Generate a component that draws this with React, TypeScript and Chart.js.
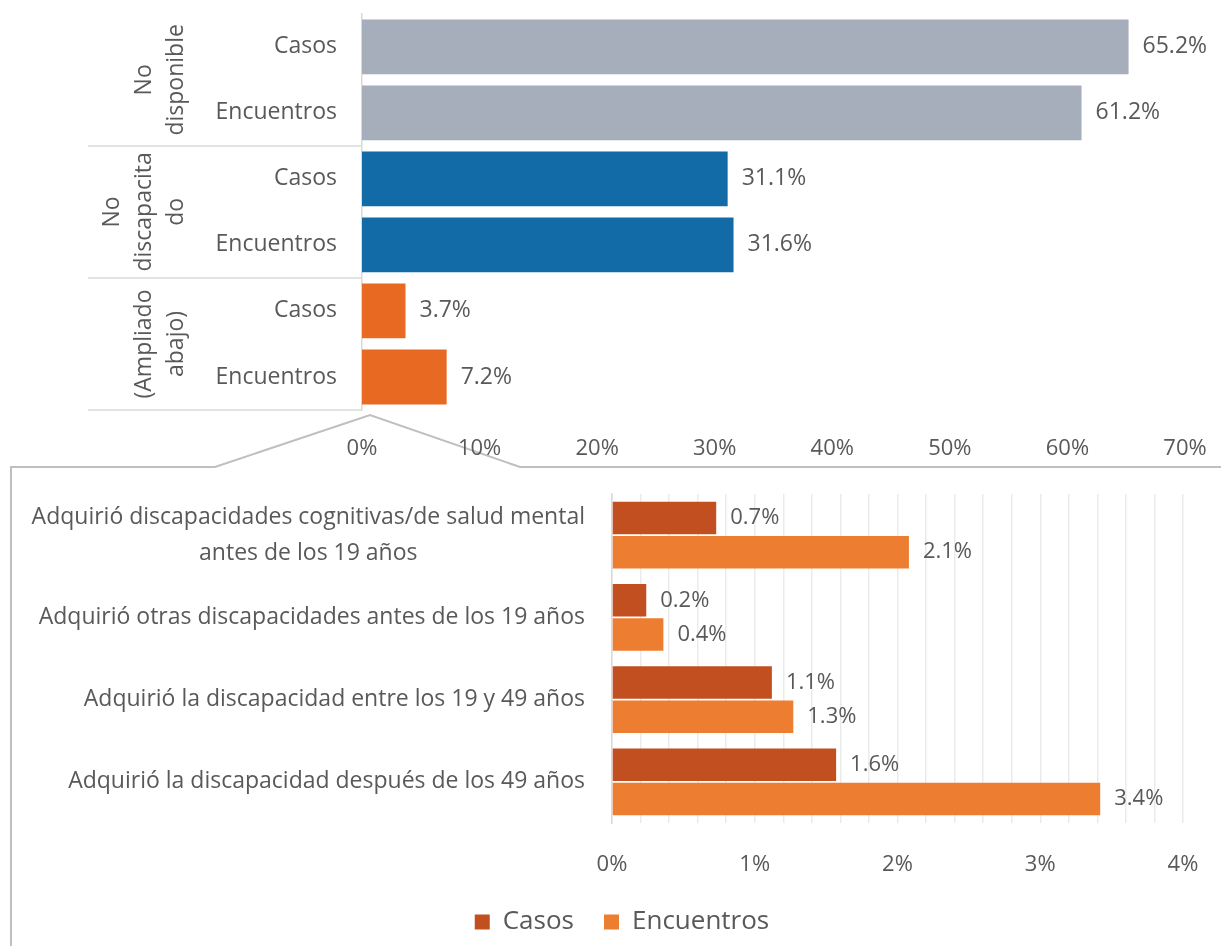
import React, { useEffect, useRef } from "react";
import { Chart, registerables } from "chart.js";

Chart.register(...registerables);

const FONT = "'Open Sans', sans-serif";
const TEXT = "#595959";

// ---------- top chart data ----------
const topCategories = ["Casos", "Encuentros", "Casos", "Encuentros", "Casos", "Encuentros"];
const topValues = [65.2, 61.2, 31.1, 31.6, 3.7, 7.2];
const topBarColors = ["#A5AEBA", "#A5AEBA", "#126BA7", "#126BA7", "#E86A22", "#E86A22"];
const topGroupLabels = [["No", "disponible"], ["No", "discapacita", "do"], ["(Ampliado", "abajo)"]];
const topGroupSizes = [2, 2, 2];
const topAxisMax = 70;
const topAxisStep = 10;

// ---------- bottom chart data ----------
const bottomCategories = [
  ["Adquirió discapacidades cognitivas/de salud mental", "antes de los 19 años"],
  ["Adquirió otras discapacidades antes de los 19 años"],
  ["Adquirió la discapacidad entre los 19 y 49 años"],
  ["Adquirió la discapacidad después de los 49 años"],
];
const seriesNames = ["Casos", "Encuentros"];
const casosValues = [0.73, 0.24, 1.12, 1.57];
const encuentrosValues = [2.08, 0.36, 1.27, 3.42];
const seriesColors = ["#C24F20", "#ED7D31"];
const bottomAxisMax = 4;
const bottomGridStep = 0.2;

const valueLabelPlugin = (offset: number, size: number) => ({
  id: "valueLabels",
  afterDatasetsDraw(chart: any) {
    const ctx = chart.ctx;
    ctx.save();
    ctx.font = `${size}px ${FONT}`;
    ctx.fillStyle = TEXT;
    ctx.textAlign = "left";
    ctx.textBaseline = "middle";
    chart.data.datasets.forEach((ds: any, di: number) => {
      chart.getDatasetMeta(di).data.forEach((el: any, i: number) => {
        ctx.fillText(Number(ds.data[i]).toFixed(1) + "%", el.x + offset, el.y);
      });
    });
    ctx.restore();
  },
});

const topGroupsPlugin = {
  id: "topGroups",
  afterDraw(chart: any) {
    const y = chart.scales.y;
    const ctx = chart.ctx;
    const area = chart.chartArea;
    const n = topCategories.length;
    const boundary = (i: number) =>
      i <= 0 ? y.top : i >= n ? y.bottom : (y.getPixelForTick(i - 1) + y.getPixelForTick(i)) / 2;
    let start = 0;
    ctx.save();
    topGroupLabels.forEach((lines, g) => {
      const end = start + topGroupSizes[g];
      const y0 = boundary(start);
      const y1 = boundary(end);
      ctx.strokeStyle = "#D9D9D9";
      ctx.lineWidth = 1.5;
      ctx.beginPath();
      ctx.moveTo(88, Math.round(y1));
      ctx.lineTo(area.left, Math.round(y1));
      ctx.stroke();
      const cy = (y0 + y1) / 2;
      ctx.font = `23px ${FONT}`;
      ctx.fillStyle = TEXT;
      ctx.textAlign = "center";
      ctx.textBaseline = "middle";
      lines.forEach((line, k) => {
        const x = 176 - (lines.length - 1 - k) * 32;
        ctx.save();
        ctx.translate(x, cy);
        ctx.rotate(-Math.PI / 2);
        ctx.fillText(line, 0, 0);
        ctx.restore();
      });
      start = end;
    });
    ctx.restore();
  },
};

const bottomLabelsPlugin = {
  id: "bottomLabels",
  afterDraw(chart: any) {
    const y = chart.scales.y;
    const ctx = chart.ctx;
    const right = chart.chartArea.left - 27;
    ctx.save();
    ctx.font = `23px ${FONT}`;
    ctx.fillStyle = TEXT;
    ctx.textBaseline = "middle";
    ctx.textAlign = "center";
    bottomCategories.forEach((lines, i) => {
      const cy = y.getPixelForTick(i);
      const lh = 36;
      const maxW = Math.max(...lines.map((l) => ctx.measureText(l).width));
      const cx = right - maxW / 2;
      lines.forEach((l, k) => ctx.fillText(l, cx, cy + (k - (lines.length - 1) / 2) * lh));
    });
    ctx.restore();
  },
};

export default function App() {
  const topRef = useRef<HTMLCanvasElement>(null);
  const bottomRef = useRef<HTMLCanvasElement>(null);

  useEffect(() => {
    const top = new Chart(topRef.current as HTMLCanvasElement, {
      type: "bar",
      data: {
        labels: topCategories,
        datasets: [
          {
            data: topValues,
            backgroundColor: topBarColors,
            borderWidth: 0,
            barPercentage: 0.83,
            categoryPercentage: 1,
          },
        ],
      },
      options: {
        indexAxis: "y",
        responsive: false,
        animation: false,
        layout: { padding: { top: 10, right: 36, left: 0, bottom: 0 } },
        plugins: { legend: { display: false }, tooltip: { enabled: false } },
        scales: {
          x: {
            min: 0,
            max: topAxisMax,
            ticks: {
              stepSize: topAxisStep,
              callback: (v: any) => `${v}%`,
              color: TEXT,
              font: { family: FONT, size: 22 },
              padding: 0,
              maxRotation: 0,
            },
            grid: { display: false, drawTicks: true, tickLength: 26 },
            border: { display: false },
            afterFit: (s: any) => {
              s.height = 56;
            },
          },
          y: {
            ticks: { color: TEXT, font: { family: FONT, size: 23 }, padding: 0 },
            grid: { display: false, drawTicks: true, tickLength: 25 },
            border: { display: true, color: "#D9D9D9", width: 1.5 },
            afterFit: (s: any) => {
              s.width = 362;
            },
          },
        },
      } as any,
      plugins: [topGroupsPlugin, valueLabelPlugin(14, 23)],
    });

    const bottom = new Chart(bottomRef.current as HTMLCanvasElement, {
      type: "bar",
      data: {
        labels: bottomCategories.map((c) => c.join(" ")),
        datasets: [
          {
            label: seriesNames[0],
            data: casosValues,
            backgroundColor: seriesColors[0],
            borderWidth: 0,
            barPercentage: 0.95,
            categoryPercentage: 0.83,
          },
          {
            label: seriesNames[1],
            data: encuentrosValues,
            backgroundColor: seriesColors[1],
            borderWidth: 0,
            barPercentage: 0.95,
            categoryPercentage: 0.83,
          },
        ],
      },
      options: {
        indexAxis: "y",
        responsive: false,
        animation: false,
        layout: { padding: { top: 26, right: 38, left: 61, bottom: 63 } },
        plugins: {
          legend: {
            position: "bottom",
            labels: {
              color: TEXT,
              font: { family: FONT, size: 26 },
              boxWidth: 15,
              boxHeight: 15,
              padding: 30,
            },
          },
          tooltip: { enabled: false },
        },
        scales: {
          x: {
            min: 0,
            max: bottomAxisMax,
            ticks: {
              stepSize: bottomGridStep,
              autoSkip: false,
              maxRotation: 0,
              color: TEXT,
              font: { family: FONT, size: 22 },
              padding: 0,
              callback: (v: any) => (Math.abs(v - Math.round(v)) < 1e-6 ? `${Math.round(v)}%` : ""),
            },
            grid: {
              color: "#EBEBEB",
              lineWidth: 1.5,
              drawTicks: true,
              tickLength: 29,
              tickColor: "rgba(0,0,0,0)",
            },
            border: { display: false },
            afterFit: (s: any) => {
              s.height = 56;
            },
          },
          y: {
            ticks: { display: false },
            grid: { display: false, drawTicks: false },
            border: { display: true, color: "#D9D9D9", width: 1.5 },
            afterFit: (s: any) => {
              s.width = 551;
            },
          },
        },
      } as any,
      plugins: [bottomLabelsPlugin, valueLabelPlugin(14, 22)],
    });

    return () => {
      top.destroy();
      bottom.destroy();
    };
  }, []);

  return (
    <div
      style={{
        position: "absolute",
        left: 0,
        top: 0,
        width: 1221,
        height: 946,
        overflow: "hidden",
        background: "#ffffff",
      }}
    >
      <svg width={1221} height={946} style={{ position: "absolute", left: 0, top: 0 }}>
        <polyline
          points="11,946 11,467 215,467 370,415 520,467 1221,467"
          fill="none"
          stroke="#BFBFBF"
          strokeWidth={2}
        />
      </svg>
      <canvas ref={topRef} width={1221} height={466} style={{ position: "absolute", left: 0, top: 0 }} />
      <canvas ref={bottomRef} width={1221} height={540} style={{ position: "absolute", left: 0, top: 468 }} />
    </div>
  );
}
